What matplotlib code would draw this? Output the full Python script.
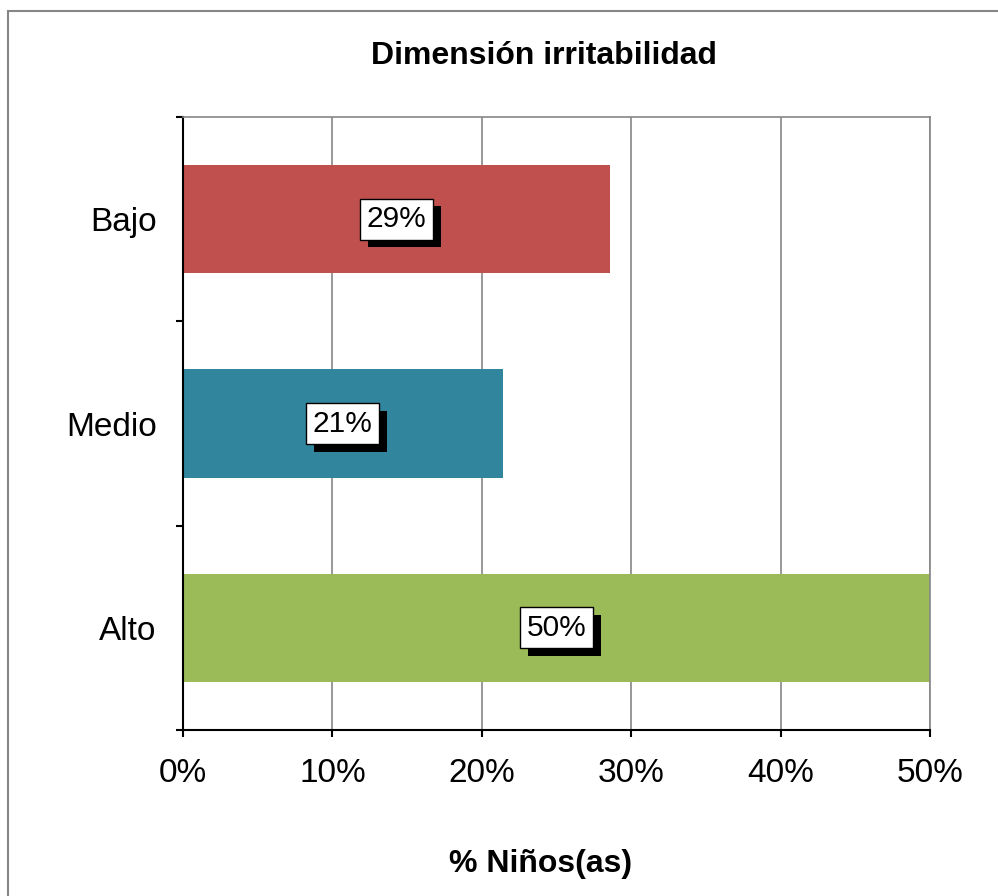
import matplotlib
matplotlib.use("Agg")
import matplotlib.pyplot as plt
import matplotlib.patheffects as pe
from matplotlib.patches import Rectangle

categories = ["Bajo", "Medio", "Alto"]
values = [28.6, 21.4, 50.0]
labels = ["29%", "21%", "50%"]
colors = ["#C0504D", "#31859C", "#9BBB59"]
xticks = [0, 10, 20, 30, 40, 50]
xticklabels = ["0%", "10%", "20%", "30%", "40%", "50%"]

plt.rcParams['font.family'] = ['Liberation Sans', 'DejaVu Sans']

W, H = 998, 896
fig = plt.figure(figsize=(W / 100, H / 100), dpi=100)

# outer chart border
fig.patches.append(Rectangle((8 / W, 0 - 0.01), 1.05, 1 - 11 / H + 0.01, transform=fig.transFigure,
                             fill=False, edgecolor="#868686", linewidth=1.5, zorder=0))

ax = fig.add_axes([183 / W, 1 - 730 / H, (930 - 183) / W, (730 - 117) / H])

ypos = list(range(len(categories)))
ax.barh(ypos, values, height=0.53, color=colors, zorder=2)
ax.set_ylim(2.5, -0.5)
ax.set_xlim(0, 50)

ax.set_xticks(xticks)
ax.set_xticklabels(xticklabels, fontsize=24)
ax.set_yticks(ypos)
ax.set_yticklabels(categories, fontsize=24)
ax.set_yticks([-0.5, 0.5, 1.5, 2.5], minor=True)
ax.tick_params(axis='y', which='major', length=0, pad=19)
ax.tick_params(axis='y', which='minor', length=5, width=1.5, direction='out', color='black')
ax.tick_params(axis='x', which='major', length=5, width=1.5, direction='out', pad=15, color='black')

ax.grid(axis='x', color="#868686", linewidth=1.2, zorder=0)
ax.set_axisbelow(True)
for s in ['top', 'right']:
    ax.spines[s].set_color("#868686")
    ax.spines[s].set_linewidth(1.2)
for s in ['left', 'bottom']:
    ax.spines[s].set_color("black")
    ax.spines[s].set_linewidth(1.5)

for y, v, lab in zip(ypos, values, labels):
    t = ax.text(v / 2, y, lab, ha='center', va='center', fontsize=21.5, zorder=5,
                bbox=dict(boxstyle='square,pad=0.22', facecolor='white', edgecolor='black', linewidth=1))
    t.get_bbox_patch().set_path_effects([
        pe.SimplePatchShadow(offset=(5.5, -5.5), shadow_rgbFace='black', alpha=1.0),
        pe.Normal()])

fig.text(544 / W, 1 - 56 / H, "Dimensión irritabilidad", ha='center', va='center',
         fontsize=23, fontweight='bold')
fig.text(541 / W, 1 - 864 / H, "% Niños(as)", ha='center', va='center',
         fontsize=23, fontweight='bold')

fig.savefig("out.png", dpi=100)
